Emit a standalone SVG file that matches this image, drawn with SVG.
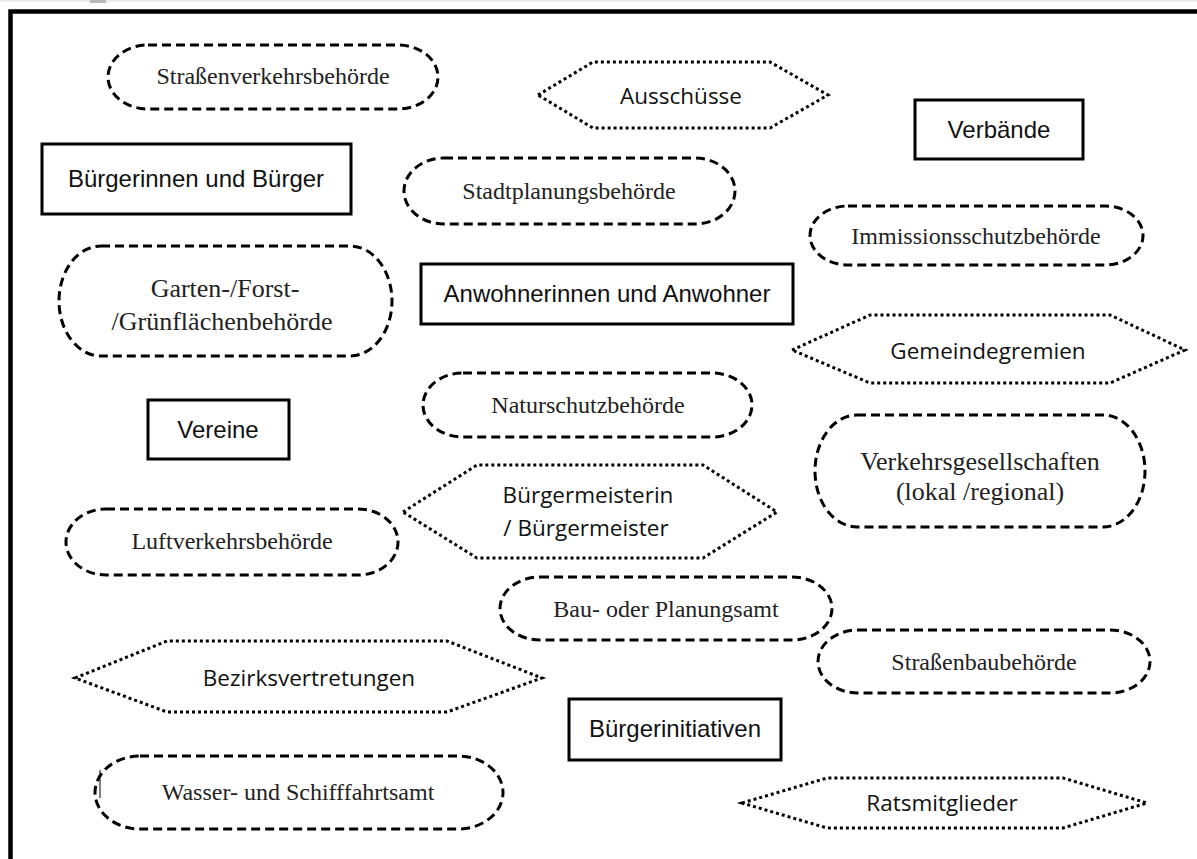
<svg xmlns="http://www.w3.org/2000/svg" width="1197" height="859" viewBox="0 0 1197 859">
<style>
.st{fill:#fff;stroke:#000;stroke-width:3;stroke-dasharray:9 5}
.bx{fill:#fff;stroke:#000;stroke-width:3}
.hx{fill:#fff;stroke:#000;stroke-width:3;stroke-dasharray:3 3}
.sf{font-family:"Liberation Serif","Times New Roman",serif;font-size:24px;fill:#222;text-anchor:middle}
.sf2{font-family:"Liberation Serif","Times New Roman",serif;font-size:26px;fill:#222;text-anchor:middle}
.ss{font-family:"Liberation Sans",Arial,sans-serif;font-size:24px;fill:#111;text-anchor:middle}
.cm{font-family:"Open Sans","Noto Sans",sans-serif;font-size:22.5px;fill:#111;text-anchor:middle}
</style>
<rect x="0" y="0" width="1197" height="859" fill="#fff"/>
<rect x="0" y="0" width="1197" height="2" fill="#ececec"/>
<rect x="90" y="0" width="16" height="3" fill="#b8b8b8"/>
<rect x="10.5" y="11.5" width="1200" height="860" fill="none" stroke="#000" stroke-width="4.5"/>

<g id="connectors"></g>

<g id="n-strassenverkehr"><rect class="st" x="108" y="45" width="330" height="64" rx="40" ry="32"/><text class="sf" x="273" y="84">Straßenverkehrsbehörde</text></g>
<g id="n-ausschuesse"><polygon class="hx" points="538,95 593,62 770,62 828,95 770,128 593,128"/><text class="cm" x="681" y="104">Ausschüsse</text></g>
<g id="n-verbaende"><rect class="bx" x="915" y="100" width="168" height="59"/><text class="ss" x="999" y="138">Verbände</text></g>
<g id="n-buerger"><rect class="bx" x="42" y="144" width="309" height="70"/><text class="ss" x="196" y="187">Bürgerinnen und Bürger</text></g>
<g id="n-stadtplanung"><rect class="st" x="404" y="158" width="331" height="66" rx="40" ry="33"/><text class="sf" x="569" y="199">Stadtplanungsbehörde</text></g>
<g id="n-immission"><rect class="st" x="810" y="206" width="333" height="59" rx="38" ry="29.5"/><text class="sf" x="976" y="244">Immissionsschutzbehörde</text></g>
<g id="n-garten"><rect class="st" x="59" y="246" width="333" height="110" rx="42" ry="55"/><text class="sf2" x="225" y="297">Garten-/Forst-</text><text class="sf2" x="222" y="330">/Grünflächenbehörde</text></g>
<g id="n-anwohner"><rect class="bx" x="421" y="264" width="372" height="60"/><text class="ss" x="607" y="302">Anwohnerinnen und Anwohner</text></g>
<g id="n-gemeindegremien"><polygon class="hx" points="792,350 870,315 1110,315 1185,350 1110,383 870,383"/><text class="cm" x="988" y="359">Gemeindegremien</text></g>
<g id="n-naturschutz"><rect class="st" x="423" y="373" width="329" height="64" rx="40" ry="32"/><text class="sf" x="588" y="413">Naturschutzbehörde</text></g>
<g id="n-vereine"><rect class="bx" x="148" y="400" width="141" height="59"/><text class="ss" x="218" y="438">Vereine</text></g>
<g id="n-verkehrsges"><rect class="st" x="815" y="415" width="330" height="112" rx="42" ry="56"/><text class="sf2" x="980" y="470">Verkehrsgesellschaften</text><text class="sf2" x="980" y="500">(lokal /regional)</text></g>
<g id="n-buergermeister"><polygon class="hx" points="403,512 477,465 703,465 777,512 703,558 477,558"/><text class="cm" x="588" y="503">Bürgermeisterin</text><text class="cm" x="586" y="536">/ Bürgermeister</text></g>
<g id="n-luftverkehr"><rect class="st" x="66" y="509" width="332" height="66" rx="40" ry="33"/><text class="sf" x="232" y="549">Luftverkehrsbehörde</text></g>
<g id="n-bauamt"><rect class="st" x="500" y="577" width="332" height="63" rx="40" ry="31.5"/><text class="sf" x="666" y="617">Bau- oder Planungsamt</text></g>
<g id="n-strassenbau"><rect class="st" x="818" y="630" width="332" height="63" rx="40" ry="31.5"/><text class="sf" x="984" y="670">Straßenbaubehörde</text></g>
<g id="n-bezirk"><polygon class="hx" points="75,678 167,641 447,641 542,678 447,712 167,712"/><text class="cm" x="309" y="686">Bezirksvertretungen</text></g>
<g id="n-initiativen"><rect class="bx" x="569" y="699" width="212" height="61"/><text class="ss" x="675" y="737">Bürgerinitiativen</text></g>
<g id="n-wasser"><rect class="st" x="95" y="756" width="408" height="73" rx="45" ry="36.5"/><line x1="100" y1="770" x2="100" y2="798" stroke="#000" stroke-width="1"/><text class="sf" x="298" y="800">Wasser- und Schifffahrtsamt</text></g>
<g id="n-rats"><polygon class="hx" points="742,803 827,778 1063,778 1147,803 1063,828 827,828"/><text class="cm" x="942" y="811">Ratsmitglieder</text></g>
</svg>
